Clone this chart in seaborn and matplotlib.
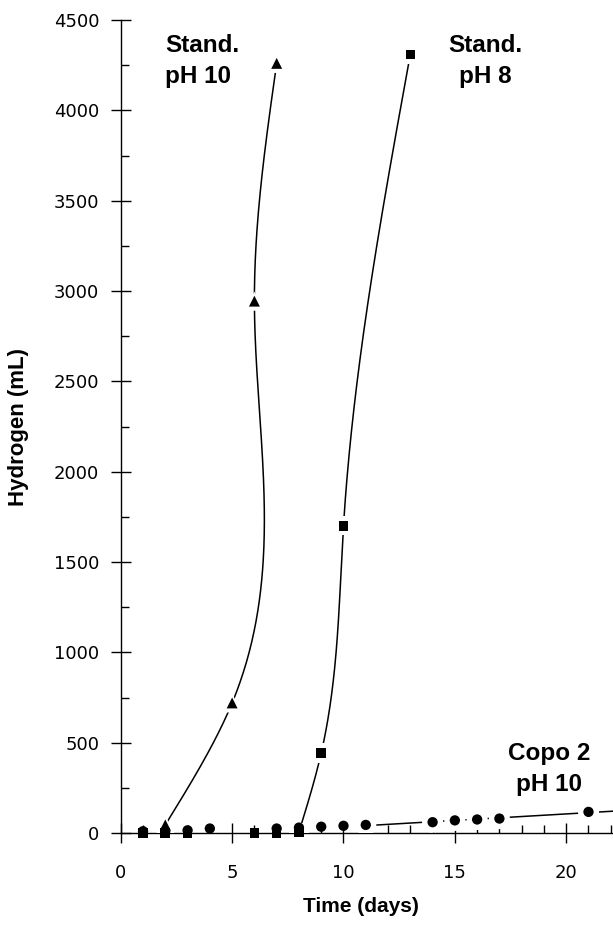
import numpy as np
import pandas as pd
import matplotlib
matplotlib.use("Agg")
import matplotlib.pyplot as plt
import seaborn as sns
from matplotlib.ticker import MultipleLocator

# -----------------------------
# data
# -----------------------------
days_ph10 = [2, 5, 6, 7]
h2_ph10 = [45, 720, 2944, 4260]

days_ph8 = [1, 2, 3, 6, 7, 8, 9, 10, 13]
h2_ph8 = [0, 0, 0, 0, 0, 5, 443, 1700, 4310]

days_copo = [1, 2, 3, 4, 7, 8, 9, 10, 11, 14, 15, 16, 17, 21]
h2_copo = [10, 10, 15, 25, 25, 30, 35, 40, 45, 60, 70, 75, 80, 117]


def spline_days(h, d, n=300):
    # natural cubic spline of time as a function of hydrogen (smooth fit curve)
    h = np.asarray(h, float)
    d = np.asarray(d, float)
    k = len(h)
    steps = np.diff(h)
    slopes = np.diff(d) / steps
    A = np.zeros((k, k))
    rhs = np.zeros(k)
    A[0, 0] = A[-1, -1] = 1
    for i in range(1, k - 1):
        A[i, i - 1] = steps[i - 1]
        A[i, i] = 2 * (steps[i - 1] + steps[i])
        A[i, i + 1] = steps[i]
        rhs[i] = 6 * (slopes[i] - slopes[i - 1])
    M = np.linalg.solve(A, rhs)
    hs = np.linspace(h[0], h[-1], n)
    idx = np.clip(np.searchsorted(h, hs) - 1, 0, k - 2)
    t0 = hs - h[idx]
    t1 = h[idx + 1] - hs
    s = steps[idx]
    ds = (M[idx] * t1 ** 3 / (6 * s) + M[idx + 1] * t0 ** 3 / (6 * s)
          + (d[idx] / s - M[idx] * s / 6) * t1
          + (d[idx + 1] / s - M[idx + 1] * s / 6) * t0)
    return pd.DataFrame({"Time": ds, "Hydrogen": hs})


curve_ph10 = spline_days(h2_ph10, days_ph10)
curve_ph8 = spline_days(h2_ph8[5:], days_ph8[5:])

# straight fit through the later copolymer points
fit = np.polyfit(days_copo[8:], h2_copo[8:], 1)
fit_x = np.array([11.0, 23.0])
curve_copo = pd.DataFrame({"Time": fit_x, "Hydrogen": np.polyval(fit, fit_x)})

# -----------------------------
# plot
# -----------------------------
sns.set_theme(style="ticks")
plt.rcParams["font.family"] = ["DejaVu Sans"]
plt.rcParams["text.color"] = "black"

fig = plt.figure(figsize=(6.13, 9.26), dpi=100)
ax = fig.add_axes([0.197, 0.1004, 0.803, 0.878])

for c in [curve_ph10, curve_ph8, curve_copo]:
    sns.lineplot(data=c, x="Time", y="Hydrogen", sort=False, estimator=None,
                 color="black", linewidth=1.1, ax=ax)

# white halos so the curves stop short of the symbols
sns.scatterplot(x=days_ph10, y=h2_ph10, marker="^", s=190, color="white",
                edgecolor="none", zorder=3, ax=ax)
sns.scatterplot(x=days_ph8[5:], y=h2_ph8[5:], marker="s", s=190, color="white",
                edgecolor="none", zorder=3, ax=ax)
sns.scatterplot(x=days_copo[8:], y=h2_copo[8:], marker="o", s=230, color="white",
                edgecolor="none", zorder=3, ax=ax)

sns.scatterplot(x=days_ph8, y=h2_ph8, marker="s", s=48, color="black",
                edgecolor="none", zorder=4, clip_on=False, ax=ax)
sns.scatterplot(x=days_copo, y=h2_copo, marker="o", s=55, color="black",
                edgecolor="none", zorder=4, clip_on=False, ax=ax)
sns.scatterplot(x=days_ph10, y=h2_ph10, marker="^", s=62, color="black",
                edgecolor="none", zorder=5, clip_on=False, ax=ax)

ax.set_xlim(0, 22.1)
ax.set_ylim(0, 4500)
ax.xaxis.set_major_locator(MultipleLocator(5))
ax.xaxis.set_minor_locator(MultipleLocator(1))
ax.yaxis.set_major_locator(MultipleLocator(500))
ax.yaxis.set_minor_locator(MultipleLocator(250))

sns.despine(ax=ax)
for sp in ["left", "bottom"]:
    ax.spines[sp].set_linewidth(1.0)
    ax.spines[sp].set_color("black")

ax.tick_params(which="major", direction="inout", length=15, width=1.0,
               color="black", labelsize=13, labelcolor="black")
ax.tick_params(axis="y", which="major", pad=8)
ax.tick_params(axis="x", which="major", pad=15)
ax.tick_params(which="minor", direction="in", length=6, width=1.0, color="black")

ax.set_xlabel("Time (days)", fontsize=15, fontweight="bold", color="black",
              family=["Liberation Sans", "DejaVu Sans"])
ax.set_ylabel("Hydrogen (mL)", fontsize=16, fontweight="bold", color="black",
              family=["Liberation Sans Narrow", "Liberation Sans"])
ax.xaxis.set_label_coords(0.488, -0.079)
ax.yaxis.set_label_coords(-0.187, 0.5)

lab = dict(fontsize=17.5, fontweight="bold", color="black",
           family=["Liberation Sans", "DejaVu Sans"], va="top", linespacing=1.45)
ax.text(1.98, 4425, "Stand.\npH 10", ha="left", **lab)
ax.text(16.35, 4425, "Stand.\npH 8", ha="center", multialignment="center", **lab)
ax.text(19.23, 505, "Copo 2\npH 10", ha="center", multialignment="center", **lab)

fig.savefig("out.png", dpi=100, facecolor="white")
